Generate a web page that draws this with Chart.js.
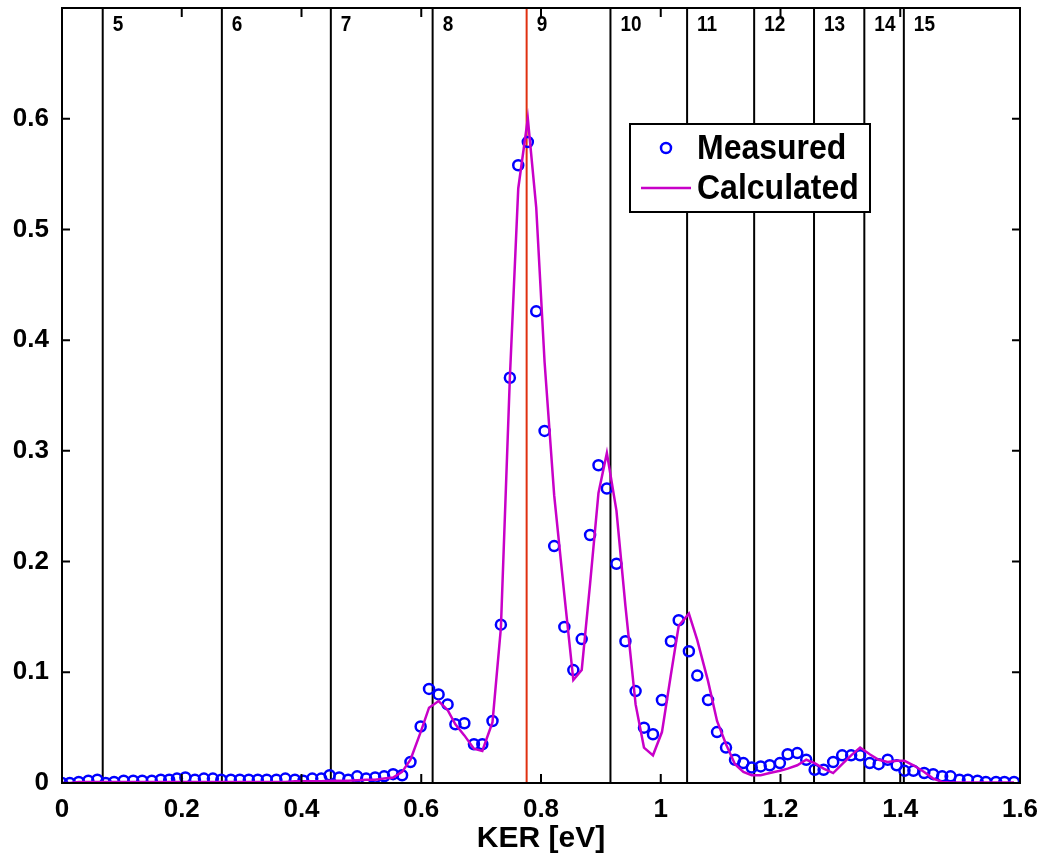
<!DOCTYPE html>
<html>
<head>
<meta charset="utf-8">
<script src="https://cdn.jsdelivr.net/npm/chart.js@4.4.1/dist/chart.umd.min.js"></script>
<style>
  html, body { margin: 0; padding: 0; background: #fff; }
  #wrap { width: 1046px; height: 859px; }
</style>
</head>
<body>
<div id="wrap"><canvas id="c" width="1046" height="859"></canvas></div>
<script>
// ---- data ----
const kerX = [
  0.000, 0.013, 0.028, 0.044, 0.059, 0.073, 0.087, 0.103, 0.119, 0.134,
  0.150, 0.165, 0.179, 0.192, 0.206, 0.222, 0.237, 0.252, 0.266, 0.282,
  0.297, 0.312, 0.327, 0.342, 0.358, 0.373, 0.389, 0.403, 0.418, 0.433,
  0.447, 0.463, 0.478, 0.493, 0.508, 0.523, 0.538, 0.553, 0.568, 0.582,
  0.599, 0.613, 0.629, 0.644, 0.657, 0.672, 0.688, 0.702, 0.719, 0.733,
  0.748, 0.762, 0.778, 0.792, 0.806, 0.822, 0.839, 0.854, 0.868, 0.882,
  0.896, 0.910, 0.926, 0.941, 0.958, 0.972, 0.987, 1.002, 1.017, 1.030,
  1.047, 1.061, 1.079, 1.094, 1.109, 1.124, 1.138, 1.152, 1.167, 1.182,
  1.199, 1.212, 1.228, 1.243, 1.257, 1.272, 1.288, 1.303, 1.318, 1.333,
  1.349, 1.364, 1.379, 1.394, 1.407, 1.422, 1.440, 1.455, 1.470, 1.484,
  1.499, 1.513, 1.529, 1.543, 1.560, 1.574, 1.590
];
const measured = [
  0.000, 0.000, 0.001, 0.002, 0.003, 0.000, 0.001, 0.002, 0.002, 0.002,
  0.002, 0.003, 0.003, 0.004, 0.005, 0.003, 0.004, 0.004, 0.003, 0.003,
  0.003, 0.003, 0.003, 0.003, 0.003, 0.004, 0.003, 0.002, 0.004, 0.004,
  0.007, 0.005, 0.003, 0.006, 0.004, 0.005, 0.006, 0.008, 0.007, 0.019,
  0.051, 0.085, 0.080, 0.071, 0.053, 0.054, 0.035, 0.035, 0.056, 0.143,
  0.366, 0.558, 0.579, 0.426, 0.318, 0.214, 0.141, 0.102, 0.130, 0.224,
  0.287, 0.266, 0.198, 0.128, 0.083, 0.050, 0.044, 0.075, 0.128, 0.147,
  0.119, 0.097, 0.075, 0.046, 0.032, 0.021, 0.018, 0.014, 0.015, 0.016,
  0.018, 0.026, 0.027, 0.021, 0.012, 0.012, 0.019, 0.025, 0.025, 0.025,
  0.018, 0.017, 0.021, 0.016, 0.011, 0.011, 0.009, 0.008, 0.006, 0.006,
  0.003, 0.003, 0.002, 0.001, 0.001, 0.001, 0.001
];
const calculated = [
  0.000, 0.000, 0.001, 0.001, 0.001, 0.001, 0.001, 0.001, 0.001, 0.001,
  0.001, 0.001, 0.001, 0.001, 0.001, 0.001, 0.001, 0.001, 0.001, 0.001,
  0.001, 0.001, 0.001, 0.001, 0.001, 0.001, 0.0015, 0.0015, 0.0015, 0.0015,
  0.002, 0.002, 0.002, 0.0025, 0.003, 0.003, 0.004, 0.005, 0.010, 0.021,
  0.046, 0.068, 0.074, 0.066, 0.053, 0.043, 0.031, 0.029, 0.055, 0.140,
  0.366, 0.537, 0.600, 0.520, 0.380, 0.260, 0.170, 0.093, 0.102, 0.180,
  0.262, 0.298, 0.246, 0.160, 0.071, 0.032, 0.025, 0.046, 0.098, 0.142,
  0.153, 0.129, 0.092, 0.056, 0.035, 0.017, 0.010, 0.007, 0.007, 0.009,
  0.011, 0.013, 0.016, 0.021, 0.018, 0.013, 0.009, 0.017, 0.025, 0.032,
  0.026, 0.021, 0.019, 0.020, 0.020, 0.016, 0.010, 0.004, 0.001, 0.0005,
  0.0005, 0.0005, 0.0005, 0.0005, 0.0005, 0.0005, 0.0005
];
// vertical level lines and their labels
const levelX = [0.068, 0.267, 0.449, 0.619, 0.776, 0.916, 1.044, 1.156, 1.256, 1.340, 1.406];
const levelLabels = ['5', '6', '7', '8', '9', '10', '11', '12', '13', '14', '15'];
const highlightLevel = '9';
// axis ticks
const xTicks = [0, 0.2, 0.4, 0.6, 0.8, 1.0, 1.2, 1.4, 1.6];
const yTicks = [0, 0.1, 0.2, 0.3, 0.4, 0.5, 0.6];
const legendNames = ['Measured', 'Calculated'];

// ---- styles ----
const FONT = '"Liberation Sans", Arial, Helvetica, sans-serif';
const BLUE = '#0000ff';
const MAG = '#c800c8';
const RED = '#e03010';

const decor = {
  id: 'decor',
  beforeDatasetsDraw(chart) {
    const { ctx, chartArea: a, scales: { x } } = chart;
    ctx.save();
    ctx.beginPath();
    ctx.rect(a.left, a.top, a.right - a.left, a.bottom - a.top);
    ctx.clip();
    levelX.forEach((v, i) => {
      const px = x.getPixelForValue(v);
      ctx.beginPath();
      ctx.strokeStyle = levelLabels[i] === highlightLevel ? RED : '#000';
      ctx.lineWidth = 2;
      ctx.moveTo(px, a.top);
      ctx.lineTo(px, a.bottom);
      ctx.stroke();
      ctx.fillStyle = '#000';
      ctx.font = 'bold 19px ' + FONT;
      ctx.textAlign = 'left';
      ctx.textBaseline = 'middle';
      ctx.save();
      ctx.translate(px + 10, a.top + 17);
      ctx.scale(1, 1.15);
      ctx.fillText(levelLabels[i], 0, 0);
      ctx.restore();
    });
    ctx.restore();
  },
  afterDraw(chart) {
    const { ctx, chartArea: a, scales: { x, y } } = chart;
    ctx.save();
    ctx.strokeStyle = '#000';
    ctx.lineWidth = 2;
    // inward tick marks on all four sides
    ctx.beginPath();
    xTicks.forEach(v => {
      const px = x.getPixelForValue(v);
      ctx.moveTo(px, a.bottom); ctx.lineTo(px, a.bottom - 9);
      ctx.moveTo(px, a.top); ctx.lineTo(px, a.top + 9);
    });
    yTicks.forEach(v => {
      const py = y.getPixelForValue(v);
      ctx.moveTo(a.left, py); ctx.lineTo(a.left + 8, py);
      ctx.moveTo(a.right, py); ctx.lineTo(a.right - 8, py);
    });
    ctx.stroke();
    // box
    ctx.strokeRect(a.left, a.top, a.right - a.left, a.bottom - a.top);

    // legend
    const lx = 630, ly = 124, lw = 240, lh = 88;
    ctx.fillStyle = '#fff';
    ctx.fillRect(lx, ly, lw, lh);
    ctx.lineWidth = 2;
    ctx.strokeRect(lx, ly, lw, lh);
    ctx.beginPath();
    ctx.strokeStyle = BLUE;
    ctx.lineWidth = 2.5;
    ctx.arc(lx + 36, ly + 24, 5, 0, Math.PI * 2);
    ctx.stroke();
    ctx.beginPath();
    ctx.strokeStyle = MAG;
    ctx.lineWidth = 2.5;
    ctx.moveTo(lx + 11, ly + 64);
    ctx.lineTo(lx + 61, ly + 64);
    ctx.stroke();
    ctx.fillStyle = '#000';
    ctx.font = 'bold 32px ' + FONT;
    ctx.textAlign = 'left';
    ctx.textBaseline = 'middle';
    [[legendNames[0], ly + 25], [legendNames[1], ly + 65]].forEach(([t, ty]) => {
      ctx.save();
      ctx.translate(lx + 67, ty);
      ctx.scale(1, 1.1);
      ctx.fillText(t, 0, 0);
      ctx.restore();
    });
    ctx.restore();
  }
};

const tickFont = { family: FONT, size: 26, weight: 'bold' };
const titleFont = { family: FONT, size: 30, weight: 'bold' };

new Chart(document.getElementById('c'), {
  type: 'scatter',
  data: {
    datasets: [
      {
        label: legendNames[1],
        type: 'line',
        data: kerX.map((v, i) => ({ x: v, y: calculated[i] })),
        borderColor: MAG,
        borderWidth: 2.5,
        pointRadius: 0,
        tension: 0,
        fill: false,
        order: 0
      },
      {
        label: legendNames[0],
        data: kerX.map((v, i) => ({ x: v, y: measured[i] })),
        showLine: false,
        pointStyle: 'circle',
        pointRadius: 5,
        borderWidth: 2.5,
        borderColor: BLUE,
        backgroundColor: 'rgba(0,0,0,0)',
        order: 1
      }
    ]
  },
  options: {
    responsive: false,
    animation: false,
    events: [],
    layout: { autoPadding: false, padding: { top: 8, right: 26, left: 0, bottom: 0 } },
    plugins: { legend: { display: false }, tooltip: { enabled: false } },
    scales: {
      x: {
        type: 'linear',
        min: 0, max: 1.6,
        afterBuildTicks(s) { s.ticks = xTicks.map(v => ({ value: v })); },
        ticks: { font: tickFont, color: '#000', padding: 11, maxRotation: 0, autoSkip: false,
                 callback: v => String(Math.round(v * 10) / 10) },
        grid: { display: false, drawTicks: false },
        border: { display: false },
        title: { display: true, text: 'KER [eV]', color: '#000', font: titleFont, padding: { top: 0, bottom: 2 } },
        afterFit(s) { s.height = 76; s.paddingLeft = 0; s.paddingRight = 0; }
      },
      y: {
        min: 0, max: 0.7,
        afterBuildTicks(s) { s.ticks = yTicks.map(v => ({ value: v })); },
        ticks: { font: tickFont, color: '#000', padding: 13,
                 callback: v => String(Math.round(v * 10) / 10) },
        grid: { display: false, drawTicks: false },
        border: { display: false },
        afterFit(s) { s.width = 62; s.paddingTop = 0; s.paddingBottom = 0; }
      }
    }
  },
  plugins: [decor]
});
</script>
</body>
</html>
